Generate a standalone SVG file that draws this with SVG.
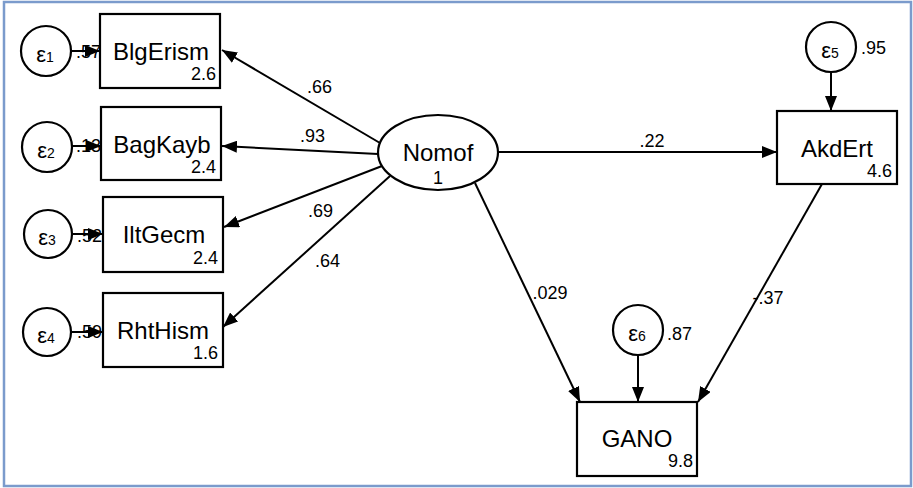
<svg xmlns="http://www.w3.org/2000/svg" width="913" height="488" viewBox="0 0 913 488">
<defs>
<marker id="ah" markerUnits="userSpaceOnUse" markerWidth="16" markerHeight="12" refX="15" refY="6" orient="auto">
<path d="M0,0 L15,6 L0,12 z" fill="#000"/>
</marker>
<style>
.ln{stroke:#000;stroke-width:2;fill:none;marker-end:url(#ah)}
.box{fill:#fff;stroke:#000;stroke-width:2.2}
.nm{font-family:"Liberation Sans",Arial,sans-serif;font-size:24px;fill:#000;text-anchor:middle}
.sm{font-family:"Liberation Sans",Arial,sans-serif;font-size:18px;fill:#000}
.r{text-anchor:end}
.c{text-anchor:middle}
.ep{font-family:"Liberation Sans",Arial,sans-serif;font-size:22px;fill:#000;text-anchor:middle}
.sub{font-size:14px}
</style>
</defs>
<rect x="0" y="0" width="913" height="488" fill="#fff"/>
<rect x="4" y="2" width="907" height="484" fill="none" stroke="#7b9bcc" stroke-width="2.5"/>
<g id="connectors">
<text class="sm" x="76" y="58">.57</text>
<text class="sm" x="76" y="152">.13</text>
<text class="sm" x="77" y="242">.52</text>
<text class="sm" x="77" y="338">.59</text>
<line class="ln" x1="71" y1="51" x2="100" y2="51"/>
<line class="ln" x1="72" y1="146" x2="101" y2="146"/>
<line class="ln" x1="72" y1="234" x2="103" y2="234"/>
<line class="ln" x1="71" y1="332" x2="103" y2="332"/>
<line class="ln" x1="380" y1="143" x2="222" y2="50"/>
<line class="ln" x1="378" y1="154" x2="222" y2="146"/>
<line class="ln" x1="382" y1="166" x2="224" y2="227"/>
<line class="ln" x1="390" y1="176" x2="223" y2="327"/>
<line class="ln" x1="498" y1="152" x2="777" y2="152"/>
<line class="ln" x1="831" y1="72" x2="831" y2="111"/>
<line class="ln" x1="475" y1="183" x2="580" y2="402"/>
<line class="ln" x1="822" y1="184" x2="698" y2="402"/>
<line class="ln" x1="638" y1="355" x2="638" y2="402"/>
<text class="sm" x="307" y="93">.66</text>
<text class="sm" x="300" y="142">.93</text>
<text class="sm" x="308" y="217">.69</text>
<text class="sm" x="315" y="267">.64</text>
<text class="sm c" x="652" y="147">.22</text>
<text class="sm c" x="550" y="299">.029</text>
<text class="sm c" x="768" y="304">-.37</text>
<text class="sm" x="861" y="54">.95</text>
<text class="sm" x="667" y="340">.87</text>
</g>
<g id="e1"><circle class="box" cx="46" cy="51" r="25"/><text class="ep" x="45" y="62">ε<tspan class="sub">1</tspan></text></g>
<g id="e2"><circle class="box" cx="47" cy="147" r="25"/><text class="ep" x="46" y="158">ε<tspan class="sub">2</tspan></text></g>
<g id="e3"><circle class="box" cx="48" cy="234" r="24"/><text class="ep" x="47" y="245">ε<tspan class="sub">3</tspan></text></g>
<g id="e4"><circle class="box" cx="47" cy="332" r="24"/><text class="ep" x="46" y="343">ε<tspan class="sub">4</tspan></text></g>
<g id="e5"><circle class="box" cx="831" cy="47" r="25"/><text class="ep" x="830" y="58">ε<tspan class="sub">5</tspan></text></g>
<g id="e6"><circle class="box" cx="638" cy="330" r="25"/><text class="ep" x="637" y="341">ε<tspan class="sub">6</tspan></text></g>
<g id="BlgErism"><rect class="box" x="100" y="14" width="120" height="74"/><text class="nm" x="161" y="60">BlgErism</text><text class="sm r" x="216" y="80">2.6</text></g>
<g id="BagKayb"><rect class="box" x="101" y="107" width="120" height="73"/><text class="nm" x="162" y="153">BagKayb</text><text class="sm r" x="216" y="173">2.4</text></g>
<g id="IltGecm"><rect class="box" x="103" y="197" width="120" height="75"/><text class="nm" x="164" y="243">IltGecm</text><text class="sm r" x="218" y="264">2.4</text></g>
<g id="RhtHism"><rect class="box" x="103" y="293" width="120" height="74"/><text class="nm" x="163" y="339">RhtHism</text><text class="sm r" x="218" y="359">1.6</text></g>
<g id="Nomof"><ellipse class="box" cx="438" cy="152.5" rx="60" ry="37.5"/><text class="nm" x="438" y="161">Nomof</text><text class="sm c" x="438" y="184" font-size="17">1</text></g>
<g id="AkdErt"><rect class="box" x="777" y="111" width="120" height="73"/><text class="nm" x="837" y="157">AkdErt</text><text class="sm r" x="892" y="177">4.6</text></g>
<g id="GANO"><rect class="box" x="577" y="402" width="120" height="74"/><text class="nm" x="637" y="447">GANO</text><text class="sm r" x="693" y="467">9.8</text></g>
</svg>
